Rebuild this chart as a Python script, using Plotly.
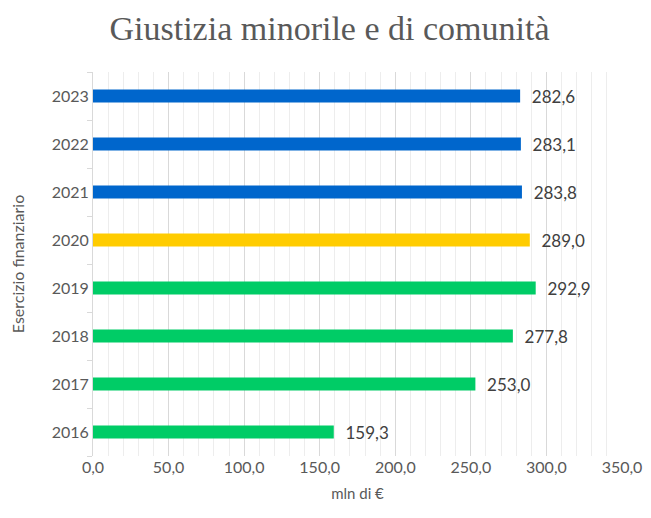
import plotly.graph_objects as go

# dati
anni = ["2016", "2017", "2018", "2019", "2020", "2021", "2022", "2023"]
valori = [159.3, 253.0, 277.8, 292.9, 289.0, 283.8, 283.1, 282.6]
colori = ["#00CC66", "#00CC66", "#00CC66", "#00CC66",
          "#FFCC00", "#0066CC", "#0066CC", "#0066CC"]

etichette = ["  " + f"{v:.1f}".replace(".", ",") for v in valori]

fig = go.Figure()

fig.add_trace(
    go.Bar(
        x=valori,
        y=anni,
        orientation="h",
        marker=dict(color=colori, line=dict(width=0)),
        width=0.27,
        text=etichette,
        textposition="outside",
        constraintext="none",
        cliponaxis=False,
        textfont=dict(family="Lato, Open Sans, sans-serif", size=17, color="#404040"),
    )
)

# la pagina ha un margine di 8px: la figura è più piccola per non tagliare i testi
fig.update_layout(
    width=643,
    height=494,
    paper_bgcolor="white",
    plot_bgcolor="white",
    separators=",.",
    showlegend=False,
    margin=dict(l=85, r=29, t=64, b=46, autoexpand=False),
    title=dict(
        text="Giustizia minorile e di comunità",
        x=0.5,
        xanchor="center",
        y=0.96,
        yanchor="middle",
        font=dict(family="Liberation Serif, DejaVu Serif, serif", size=34, color="#595959"),
    ),
    font=dict(family="Lato, Open Sans, sans-serif", size=16, color="#595959"),
)

fig.update_xaxes(
    range=[0, 350],
    dtick=50,
    tickformat=".1f",
    automargin=False,
    ticklabeloverflow="allow",
    showgrid=True,
    gridcolor="#D9D9D9",
    gridwidth=1,
    minor=dict(dtick=10, showgrid=True, gridcolor="#EDEDED", gridwidth=1),
    zeroline=False,
    showline=False,
    ticks="",
    tickfont=dict(size=16, color="#595959"),
    title=dict(text="mln di €", font=dict(size=15, color="#595959"), standoff=18),
)

fig.update_yaxes(
    type="category",
    categoryorder="array",
    categoryarray=anni,
    automargin=False,
    showgrid=False,
    showline=True,
    linecolor="#D9D9D9",
    linewidth=1,
    ticks="outside",
    tickson="boundaries",
    ticklen=5,
    tickcolor="#D9D9D9",
    tickfont=dict(size=16, color="#595959"),
    title=dict(text="Esercizio finanziario", font=dict(size=16, color="#595959"), standoff=30),
)

fig.write_html("out.html")
